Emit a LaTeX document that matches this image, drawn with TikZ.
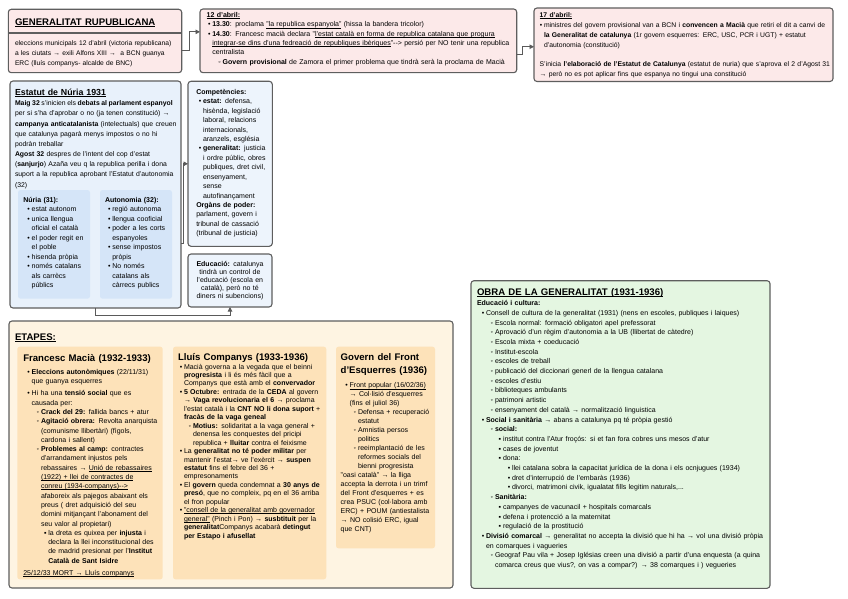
\documentclass[tikz,border=0pt]{standalone}
\usepackage{fontspec}
\setmainfont{Liberation Sans}
\usetikzlibrary{arrows.meta,calc}
\definecolor{bordc}{HTML}{5E5E5E}
\definecolor{connc}{HTML}{5A5A5A}
\definecolor{pinkf}{HTML}{FCE9E9}
\definecolor{bluef}{HTML}{E8F1FB}
\definecolor{blueg}{HTML}{D5E5F8}
\definecolor{bluec}{HTML}{EDF4FC}
\definecolor{creamf}{HTML}{FEF4E2}
\definecolor{peachf}{HTML}{FDE2B9}
\definecolor{greenf}{HTML}{E4F6E1}
\newlength\ulw
\newcommand\ul[1]{\settowidth\ulw{#1}\leavevmode\rlap{\rule[-0.17em]{\ulw}{0.075em}}#1}
\newcommand\fs[1]{\noindent\rule{0pt}{#1}}
\newcommand\nl{\newline}
\newcommand\bul[2]{\par\leftskip=#1\relax\noindent\llap{#2\hspace{1.8pt}}\ignorespaces}
\newcommand\ia{\bul{\Lone}{•}}
\newcommand\ib{\bul{\Ltwo}{◦}}
\newcommand\ic{\bul{\Lthree}{▪}}
\newcommand\id{\bul{\Lfour}{•}}
\newcommand\pl{\par\leftskip=0pt\relax\noindent\ignorespaces}
\newcommand\dda{\mbox{-}\mbox{-}>}
\def\Lone{8pt}\def\Ltwo{16pt}\def\Lthree{24pt}\def\Lfour{32pt}
\begin{document}
\begin{tikzpicture}[x=1pt,y=-1pt,
 box/.style={draw=bordc,line width=1.1pt,rounded corners=3pt,anchor=north west,inner sep=0pt,outer sep=0pt},
 panel/.style={rounded corners=2.5pt,anchor=north west,inner sep=0pt,outer sep=0pt},
 txt/.style={anchor=north west,inner sep=0pt,outer sep=0pt,text width=#1,align=left},
 ttl/.style={font=\fontsize{9.6}{11}\selectfont\bfseries},
 conn/.style={draw=connc,line width=0.9pt,-{Triangle[length=4.5pt,width=4.5pt]}},
]
\fill[white] (0,0) rectangle (848,599);
\useasboundingbox (0,0) rectangle (848,599);

% ---------- top row ----------
\node[box,fill=pinkf,minimum width=173.4pt,minimum height=63.4pt] (b1) at (8.3,9.3) {};
\draw[draw=bordc,line width=1.1pt] ($(b1.north west)+(0,23.7)$) -- ($(b1.north east)+(0,23.7)$);
\node[txt=170,ttl] (b1t) at (15,15.6) {\fs{9.5pt}\ul{GENERALITAT RUPUBLICANA}\par};
\node[txt=175,font=\fontsize{6.7}{9.7}\selectfont] (b1x) at (15,38.9) {\fs{7pt}eleccions municipals 12 d'abril (victoria republicana)\nl a les ciutats → exili Alfons XIII →\ \ a BCN guanya\nl ERC (lluís companys- alcalde de BNC)\par};

\node[box,fill=pinkf,minimum width=316.7pt,minimum height=63.7pt] (b2) at (200,9) {};
\node[txt=320,font=\fontsize{7}{9.3}\selectfont] (b2x) at (206.7,10.6) {\def\Lone{5.6pt}\def\Ltwo{16pt}\fs{7pt}\textbf{\ul{12 d'abril:}}
\ia\textbf{13.30}: proclama \ul{"la republica espanyola"} (hissa la bandera tricolor)
\ia\textbf{14.30}: Francesc macià declara "\ul{l'estat català en forma de republica catalana que progura}\nl\ul{integrar-se dins d'una fedreació de republiques ibèriques}"\dda{} persió per NO tenir una republica\nl centralista
\ib\textbf{Govern provisional} de Zamora el primer problema que tindrà serà la proclama de Macià\par};

\node[box,fill=pinkf,minimum width=299pt,minimum height=73.5pt] (b3) at (534,8) {};
\node[txt=300,font=\fontsize{6.8}{10}\selectfont] (b3x) at (539.7,10.6) {\def\Lone{4.3pt}\fs{7pt}\textbf{\ul{17 d'abril:}}
\ia ministres del govern provisional van a BCN i \textbf{convencen a Macià} que retiri el dit a canvi de\nl\textbf{la Generalitat de catalunya} (1r govern esquerres: ERC, USC, PCR i UGT) + estatut\nl d'autonomia (constitució)
\par\vskip 8.5pt\pl S'inicia \textbf{l'elaboració de l'Estatut de Catalunya} (estatut de nuria) que s'aprova el 2 d'Agost 31\nl → però no es pot aplicar fins que espanya no tingui una constitució\par};

\draw[conn] ($(b1.east)+(0,9)$) -- ++(7.6,0) |- ($(b2.west)+(0,-9)$);
\draw[conn] ($(b2.east)+(0,14)$) -- ++(5.3,0) |- ($(b3.west)+(0,2)$);

% ---------- Estatut ----------
\node[box,fill=bluef,minimum width=171pt,minimum height=227pt] (est) at (10,81) {};
\node[txt=170,font=\fontsize{8.8}{10}\selectfont\bfseries] (estt) at (15,86.2) {\fs{9pt}\ul{Estatut de Núria 1931}\par};
\node[txt=175,font=\fontsize{6.85}{10.2}\selectfont] (estx) at (15,98.6) {\fs{7pt}{\spaceskip=1.6pt plus 0.5pt\textbf{Maig 32} s'inicien els \textbf{debats al parlament espanyol}}\nl per si s'ha d'aprobar o no (ja tenen constitució) →\nl \textbf{campanya anticatalanista} (intelectuals) que creuen\nl que catalunya pagarà menys impostos o no hi\nl podràn treballar
\pl\textbf{Agost 32} despres de l'intent del cop d'estat\nl (\textbf{sanjurjo}) Azaña veu q la republica perilla i dona\nl suport a la republica aprobant l'Estatut d'autonomia\nl (32)\par};

\node[panel,fill=blueg,minimum width=72pt,minimum height=108.7pt] (nur) at (18,190) {};
\node[txt=75,font=\fontsize{7}{9.5}\selectfont] (nurx) at (23.3,195.3) {\def\Lone{8.4pt}\fs{7pt}\textbf{Núria (31):}
\ia estat autonom
\ia unica llengua\nl oficial el català
\ia el poder regit en\nl el poble
\ia hisenda pròpia
\ia només catalans\nl als carrècs\nl públics\par};

\node[panel,fill=blueg,minimum width=72pt,minimum height=108.7pt] (aut) at (100,190) {};
\node[txt=75,font=\fontsize{7}{9.5}\selectfont] (autx) at (105,195.3) {\def\Lone{7.3pt}\fs{7pt}\textbf{Autonomia (32):}
\ia regió autonoma
\ia llengua cooficial
\ia poder a les corts\nl espanyoles
\ia sense impostos\nl pròpis
\ia No només\nl catalans als\nl càrrecs publics\par};

\node[box,fill=bluec,minimum width=84.3pt,minimum height=165pt] (comp) at (188,81.3) {};
\node[txt=85,font=\fontsize{7}{9.4}\selectfont] (compx) at (196.3,87.6) {\def\Lone{6.7pt}\fs{7pt}\textbf{Competències:}
\ia\textbf{estat:} defensa,\nl hisènda, legislació\nl laboral, relacions\nl internacionals,\nl aranzels, església
\ia\textbf{generalitat:} justicia\nl i ordre públic, obres\nl publiques, dret civil,\nl ensenyament,\nl sense\nl autofinançament
\pl\textbf{Orgàns de poder:}\nl parlament, govern i\nl tribunal de cassació\nl (tribunal de justicia)\par};

\node[box,fill=bluec,minimum width=84pt,minimum height=53pt] (edu) at (188,254) {};
\node[anchor=north,inner sep=0pt,text width=84pt,align=center,font=\fontsize{7}{8.2}\selectfont] (edux) at (230,258.9) {\fs{7pt}\textbf{Educació:} catalunya\\ tindrà un control de\\ l'educació (escola en\\ català), però no té\\ diners ni subencions)};

\draw[conn] ($(est.east)+(0,48.5)$) -- ++(2.5,0) |- (comp.west);
\draw[conn] (est.south) -- ++(0,7) -| (edu.south);

% ---------- ETAPES ----------
\node[box,fill=creamf,minimum width=444pt,minimum height=267pt] (eta) at (9,321) {};
\node[txt=100,ttl] (etat) at (15,330.6) {\fs{9.5pt}\ul{ETAPES:}\par};

\node[panel,fill=peachf,minimum width=145.4pt,minimum height=232.6pt] (mac) at (17.3,346.7) {};
\node[txt=145,ttl] (mact) at (23.3,351.6) {\fs{9.5pt}Francesc Macià (1932-1933)\par};
\node[txt=145,font=\fontsize{7}{9.3}\selectfont] (macx) at (23.3,364.9) {\def\Lone{8.4pt}\def\Ltwo{17.7pt}\def\Lthree{25pt}%
\ia\fs{7pt}\textbf{Eleccions autonòmiques} (22/11/31)\nl que guanya esquerres
\par\vskip3pt\ia Hi ha una \textbf{tensió social} que es\nl causada per:
\ib\textbf{Crack del 29:} fallida bancs + atur
\ib\textbf{Agitació obrera:} Revolta anarquista\nl (comunisme llibertàri) (fìgols,\nl cardona i sallent)
\ib\textbf{Problemes al camp:} contractes\nl d'arrandament injustos pels\nl rebassaires → \ul{Unió de rebassaires}\nl\ul{(1922) + llei de contractes de}\nl\ul{conreu (1934-companys)\dda}\nl afaboreix als pajegos abaixant els\nl preus ( dret adquisició del seu\nl domini mitjançant l'abonament del\nl seu valor al propietari)
\ic la dreta es quixea per \textbf{injusta} i\nl declara la llei inconstitucional des\nl de madrid presionat per l'\textbf{Institut}\nl\textbf{Català de Sant Isidre}
\par\vskip3pt\pl\ul{25/12/33 MORT → Lluís companys}\par};

\node[panel,fill=peachf,minimum width=153.3pt,minimum height=232.6pt] (llu) at (173,346.7) {};
\node[txt=150,ttl] (llut) at (178,350.6) {\fs{9.5pt}Lluís Companys (1933-1936)\par};
\node[txt=155,font=\fontsize{7}{8.45}\selectfont] (llux) at (178,360.6) {\def\Lone{6pt}\def\Ltwo{15pt}%
\ia\fs{7pt}Macià governa a la vegada que el beinni\nl\textbf{progresista} i li és més fàcil que a\nl Companys que està amb el \textbf{convervador}
\ia\textbf{5 Octubre:} entrada de la \textbf{CEDA} al govern\nl → \textbf{Vaga revolucionaria el 6} → proclama\nl l'estat català i la \textbf{CNT NO li dona suport} +\nl\textbf{fracàs de la vaga geneal}
\ib\textbf{Motius:} solidaritat a la vaga general +\nl denensa les conquestes del pricipi\nl republica + \textbf{lluitar} contra el feixisme
\ia La \textbf{generalitat no té poder militar} per\nl mantenir l'estat→ ve l'exèrcit → \textbf{suspen}\nl\textbf{estatut} fins el febre del 36 +\nl empresonaments
\ia El \textbf{govern} queda condemnat a \textbf{30 anys de}\nl\textbf{presó}, que no compleix, pq en el 36 arriba\nl el fron popular
\ia\ul{"consell de la generalitat amb governador}\nl\ul{general"} (Pinch i Pon) → \textbf{susbtituit} per la\nl\textbf{generalitat}Companys acabarà \textbf{detingut}\nl\textbf{per Estapo i afusellat}\par};

\node[panel,fill=peachf,minimum width=99pt,minimum height=201.6pt] (gov) at (336,346.7) {};
\node[txt=100,font=\fontsize{9.6}{13.3}\selectfont\bfseries] (govt) at (340.7,350.6) {\fs{9.5pt}Govern del Front\nl d'Esquerres (1936)\par};
\node[txt=100,font=\fontsize{7}{9}\selectfont] (govx) at (340.7,378.9) {\def\Lone{9pt}\def\Ltwo{17.3pt}%
\ia\fs{7pt}\ul{Front popular (16/02/36)}\nl → Col·lisió d'esquerres\nl (fins el juliol 36)
\ib Defensa + recuperació\nl estatut
\ib Amnistia persos\nl politics
\ib reeimplantació de les\nl reformes socials del\nl bienni progresista
\pl"oasi català" → la lliga\nl accepta la derrota i un trimf\nl del Front d'esquerres + es\nl crea PSUC (col·labora amb\nl ERC) + POUM (antiestalista\nl → NO colisió ERC, igual\nl que CNT)\par};

% ---------- OBRA ----------
\node[box,fill=greenf,minimum width=299pt,minimum height=307.6pt] (obra) at (471,280.7) {};
\node[txt=290,ttl] (obrat) at (477,285.9) {\fs{9.5pt}\ul{OBRA DE LA GENERALITAT (1931-1936)}\par};
\node[txt=300,font=\fontsize{7}{9.7}\selectfont] (obrax) at (477,298.6) {\def\Lone{9pt}\def\Ltwo{18pt}\def\Lthree{26pt}\def\Lfour{35pt}\fs{7pt}\textbf{Educació i cultura:}
\ia Consell de cultura de la generalitat (1931) (nens en escoles, publiques i laiques)
\ib Escola normal: formació obligatori apel prefessorat
\ib Aprovació d'un règim d'autonomia a la UB (llibertat de càtedre)
\ib Escola mixta + coeducació
\ib Institut-escola
\ib escoles de treball
\ib publicació del diccionari generl de la llengua catalana
\ib escoles d'estiu
\ib biblioteques ambulants
\ib patrimoni artistic
\ib ensenyament del català → normalització linguistica
\ia\textbf{Social i sanitària} → abans a catalunya pq té pròpia gestió
\ib\textbf{social:}
\ic institut contra l'Atur froçós: si et fan fora cobres uns mesos d'atur
\ic cases de joventut
\ic dona:
\id llei catalana sobra la capacitat jurídica de la dona i els ocnjugues (1934)
\id dret d'interrupció de l'embaràs (1936)
\id divorci, matrimoni civik, igualatat fills legitim naturals,...
\ib\textbf{Sanitària:}
\ic campanyes de vacunacil + hospitals comarcals
\ic defena i protencció a la maternitat
\ic regulació de la prostitució
\ia\textbf{Divisió comarcal} → generalitat no accepta la divisió que hi ha → vol una divisió pròpia\nl en comarques i vagueries
\ib Geograf Pau vila + Josep Iglésias creen una divisió a partir d'una enquesta (a quina\nl comarca creus que vius?, on vas a compar?) → 38 comarques i ) vegueries\par};
\end{tikzpicture}
\end{document}
